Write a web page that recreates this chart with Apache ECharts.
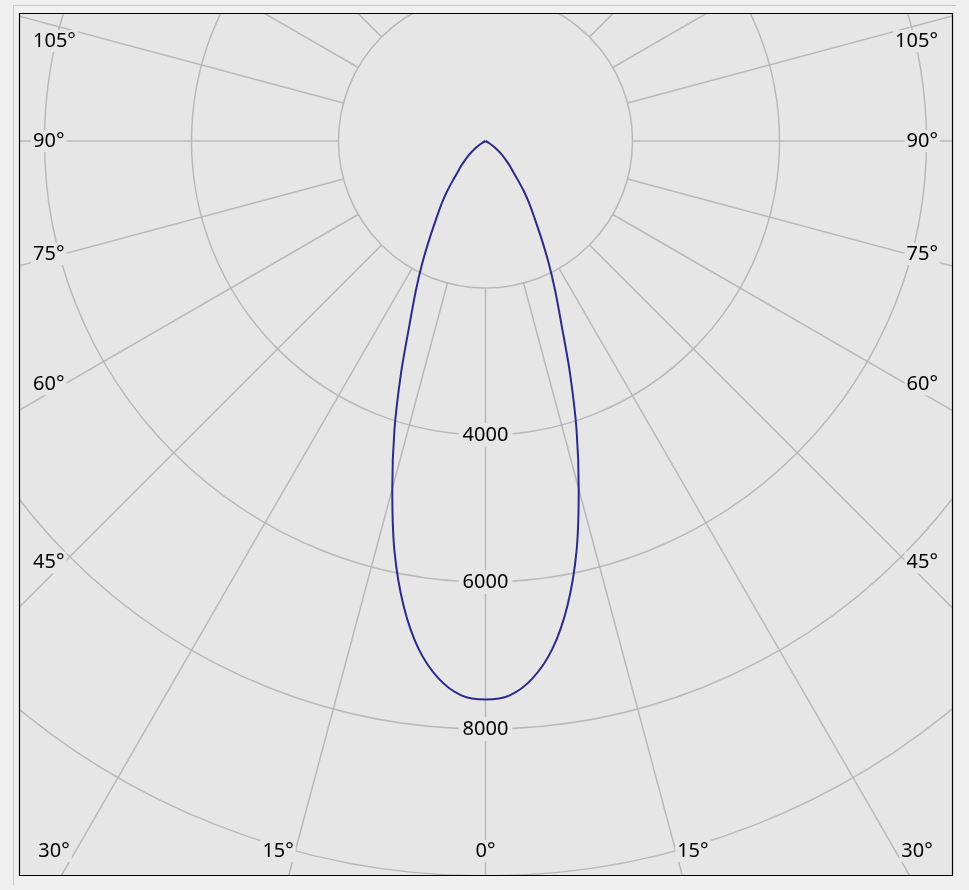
<!DOCTYPE html>
<html>
<head>
<meta charset="utf-8">
<script src="https://cdn.jsdelivr.net/npm/echarts@6/dist/echarts.min.js"></script>
<style>
html,body{margin:0;padding:0;background:#f0f0f0;}
#chart{width:969px;height:890px;}
</style>
</head>
<body>
<div id="chart"></div>
<script>
// ---- data ----
const angles    = [0, 2.5, 5, 7.5, 10, 12.5, 15, 17.5, 20, 22.5, 25, 27.5, 30, 32.5, 35, 37.5, 40, 42.5, 45, 50, 55, 60, 65, 70, 80, 90];
const intensity = [7600, 7550, 7340, 6970, 6420, 5720, 4900, 4120, 3360, 2700, 2240, 1850, 1510, 1240, 1040, 850, 670, 540, 450, 290, 160, 60, 0, 0, 0, 0];
const radiusLabels = ['4000', '6000', '8000'];
const angleTicks = [0, 15, 30, 45, 60, 75, 90, 105];
const angleTickLabels = ['0°', '15°', '30°', '45°', '60°', '75°', '90°', '105°'];

// ---- layout ----
const W = 969, H = 890;
const PLOT = { left: 19, top: 13, right: 952, bottom: 875 };
const CX = 485.5, CY = 141;
const R_INNER = 147, R_OUTER = 882;
const BG = '#f0f0f0', PLOT_BG = '#e6e6e6', GRID = '#b9b9b9';
const FONT = '"Noto Sans", "DejaVu Sans", sans-serif';

// curve: left half (clockwise side) then right half
const curve = [];
for (let i = angles.length - 1; i >= 0; i--) curve.push([intensity[i], angles[i]]);
for (let i = 0; i < angles.length; i++) curve.push([intensity[i], 360 - angles[i]]);

// angle labels placed where the spokes leave the plot frame
const labelEls = [];
angleTicks.forEach((deg, idx) => {
  const sides = deg === 0 ? [1] : [-1, 1];
  sides.forEach(side => {
    const a = deg * Math.PI / 180;
    const dx = side * Math.sin(a), dy = Math.cos(a);
    let x, y, align = 'center';
    const bx = dy > 0 ? CX + dx * (PLOT.bottom - CY) / dy : Infinity;
    if (dy > 0 && bx >= PLOT.left && bx <= PLOT.right) {
      const bx2 = CX + dx * (PLOT.bottom + 40 - CY) / dy;
      x = Math.min(Math.max(bx2, PLOT.left + 35), PLOT.right - 35);
      y = PLOT.bottom - 24;
    } else {
      const xc = side > 0 ? PLOT.right - 45 : PLOT.left + 45;
      y = CY + dy * (xc - CX) / dx;
      y = Math.min(Math.max(y, PLOT.top + 28), PLOT.bottom - 40);
      x = side > 0 ? PLOT.right - 12 : PLOT.left + 12;
      align = side > 0 ? 'right' : 'left';
    }
    labelEls.push({
      type: 'text', x: x, y: y, z: 60, silent: true,
      style: {
        text: angleTickLabels[idx], fill: '#000', font: '20px ' + FONT,
        align: align, verticalAlign: 'middle',
        backgroundColor: PLOT_BG, padding: [1, 2]
      }
    });
  });
});

const hiddenAxis = { show: false, axisLine: { show: false }, axisTick: { show: false }, axisLabel: { show: false }, splitLine: { show: false } };

const chart = echarts.init(document.getElementById('chart'), null, { width: W, height: H, renderer: 'canvas' });
chart.setOption({
  animation: false,
  backgroundColor: PLOT_BG,
  polar: [
    { center: [CX, CY], radius: [R_INNER, R_OUTER] },
    { center: [CX, CY], radius: [0, R_OUTER] }
  ],
  angleAxis: [
    {
      polarIndex: 0, type: 'value', min: 0, max: 360, interval: 15,
      startAngle: -90, clockwise: true, z: 0,
      axisLine: { show: false }, axisTick: { show: false }, axisLabel: { show: false },
      splitLine: { show: true, lineStyle: { color: GRID, width: 1.5 } }
    },
    Object.assign({ polarIndex: 1, type: 'value', min: 0, max: 360, startAngle: -90, clockwise: true }, hiddenAxis)
  ],
  radiusAxis: [
    {
      polarIndex: 0, type: 'value', min: 2000, max: 12000, interval: 2000, z: 1,
      axisLine: { show: false }, axisTick: { show: false },
      splitLine: { show: true, lineStyle: { color: GRID, width: 1.5 } },
      axisLabel: {
        margin: 0, align: 'center', verticalAlign: 'middle',
        formatter: v => radiusLabels.indexOf(String(v)) >= 0 ? '{a|' + v + '}' : '',
        rich: { a: { color: '#000', fontFamily: FONT, fontSize: 20, backgroundColor: PLOT_BG, padding: [2, 4] } }
      }
    },
    Object.assign({ polarIndex: 1, type: 'value', min: 0, max: 12000 }, hiddenAxis)
  ],
  series: [{
    type: 'line', coordinateSystem: 'polar', polarIndex: 1, data: curve,
    symbol: 'none', smooth: 0.3, clip: false, z: 2, silent: true,
    lineStyle: { color: '#2b2a8c', width: 2 }
  }],
  graphic: [
    { type: 'rect', z: 50, silent: true, shape: { x: 0, y: 0, width: W, height: PLOT.top }, style: { fill: BG } },
    { type: 'rect', z: 50, silent: true, shape: { x: 0, y: PLOT.bottom, width: W, height: H - PLOT.bottom }, style: { fill: BG } },
    { type: 'rect', z: 50, silent: true, shape: { x: 0, y: 0, width: PLOT.left, height: H }, style: { fill: BG } },
    { type: 'rect', z: 50, silent: true, shape: { x: PLOT.right, y: 0, width: W - PLOT.right, height: H }, style: { fill: BG } },
    { type: 'polyline', z: 51, silent: true, shape: { points: [[13.5, 885], [13.5, 5.5], [956, 5.5]] }, style: { stroke: '#c8c8c8', lineWidth: 1, fill: null } },
    { type: 'rect', z: 52, silent: true, shape: { x: PLOT.left + 0.5, y: PLOT.top + 0.5, width: PLOT.right - PLOT.left, height: PLOT.bottom - PLOT.top }, style: { fill: null, stroke: '#000', lineWidth: 1.2 } }
  ].concat(labelEls)
});
</script>
</body>
</html>
